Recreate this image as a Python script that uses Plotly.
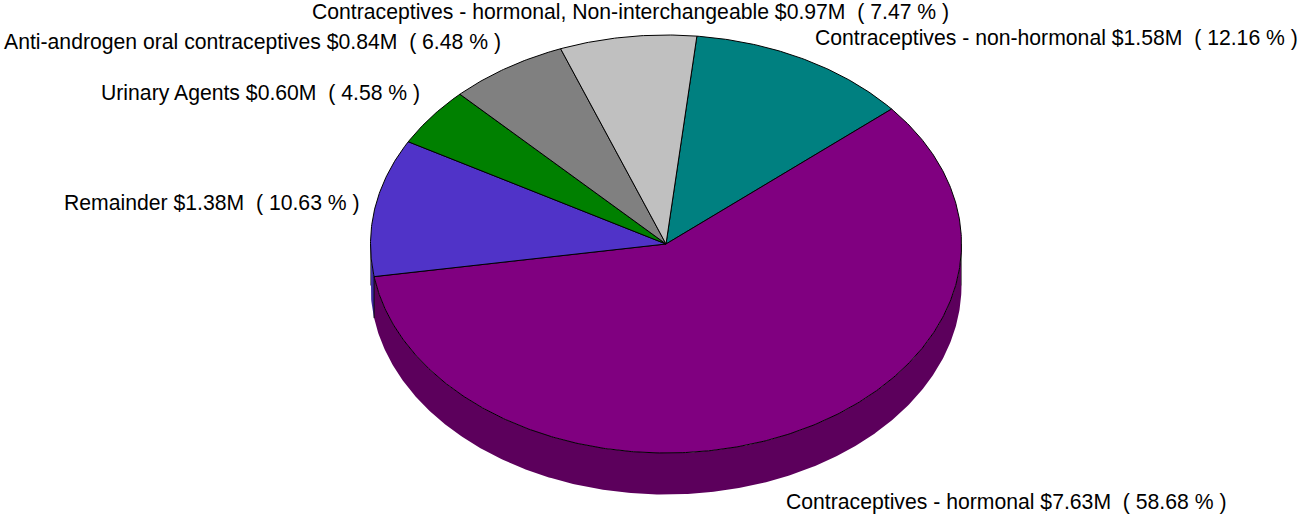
import numpy as np
import plotly.graph_objects as go

categories = ["Contraceptives - non-hormonal", "Contraceptives - hormonal", "Remainder", "Urinary Agents",
              "Anti-androgen oral contraceptives", "Contraceptives - hormonal, Non-interchangeable"]
dollars = ["$1.58M", "$7.63M", "$1.38M", "$0.60M", "$0.84M", "$0.97M"]
shares = [12.16, 58.68, 10.63, 4.58, 6.48, 7.47]
colors = ["#008080", "#800080", "#5033C8", "#008000", "#808080", "#C0C0C0"]
side_colors = ["#005C5C", "#5C005C", "#3F2BA0", "#005C00", "#5C5C5C", "#8A8A8A"]
label_x = [813, 784, 62, 99, 2, 310]
label_y = [38, 502, 203, 93, 42, 12]

CX, CY, RX, RY, DEPTH = 666, 244, 295.5, 209, 41.5
START = 6.0
FONT = "Liberation Sans, Arial, sans-serif"
SIZE = 21.2


def rim(a0, a1, dy=0.0):
    t = np.radians(np.linspace(a0, a1, max(int(abs(a1 - a0) * 2), 2)))
    return CX + RX * np.sin(t), CY - RY * np.cos(t) + dy


fig = go.Figure()
edges = np.concatenate([[0], np.cumsum(shares)]) * 3.6 + START

# side wall: only the front half of the rim (90..270 deg) is visible
for i in range(len(shares)):
    a0, a1 = max(edges[i], 90), min(edges[i + 1], 270)
    if a1 <= a0:
        continue
    x0, y0 = rim(a0, a1)
    x1, y1 = rim(a1, a0, DEPTH)
    fig.add_trace(go.Scatter(x=np.r_[x0, x1], y=np.r_[y0, y1], mode="lines", fill="toself",
                             fillcolor=side_colors[i], line=dict(width=0), hoverinfo="skip"))
# vertical edges of the wall
for a, col in [(90, "#777777"), (270, "#777777"), (edges[2], "#000000")]:
    xe, ye = rim(a, a)
    fig.add_trace(go.Scatter(x=[xe[0], xe[0]], y=[ye[0], ye[0] + DEPTH], mode="lines",
                             line=dict(color=col, width=1), hoverinfo="skip"))
# top face
for i in range(len(shares)):
    x, y = rim(edges[i], edges[i + 1])
    fig.add_trace(go.Scatter(x=np.r_[CX, x, CX], y=np.r_[CY, y, CY], mode="lines", fill="toself",
                             fillcolor=colors[i], line=dict(color="#000000", width=1), hoverinfo="skip"))

for c, d, s, lx, ly in zip(categories, dollars, shares, label_x, label_y):
    fig.add_annotation(x=lx, y=ly, xanchor="left", yanchor="middle", showarrow=False, xshift=0,
                       text=f"{c} {d}\u00a0\u00a0( {s:.2f} % )", font=dict(family=FONT, size=SIZE, color="#000000"))

fig.update_layout(width=1301, height=515, margin=dict(l=0, r=0, t=0, b=0), showlegend=False,
                  paper_bgcolor="#FFFFFF", plot_bgcolor="#FFFFFF",
                  xaxis=dict(range=[0, 1301], visible=False, fixedrange=True),
                  yaxis=dict(range=[515, 0], visible=False, fixedrange=True))
fig.write_html("out.html", post_script="document.body.style.margin='0';document.body.style.overflow='hidden';",
               config={"displayModeBar": False})
